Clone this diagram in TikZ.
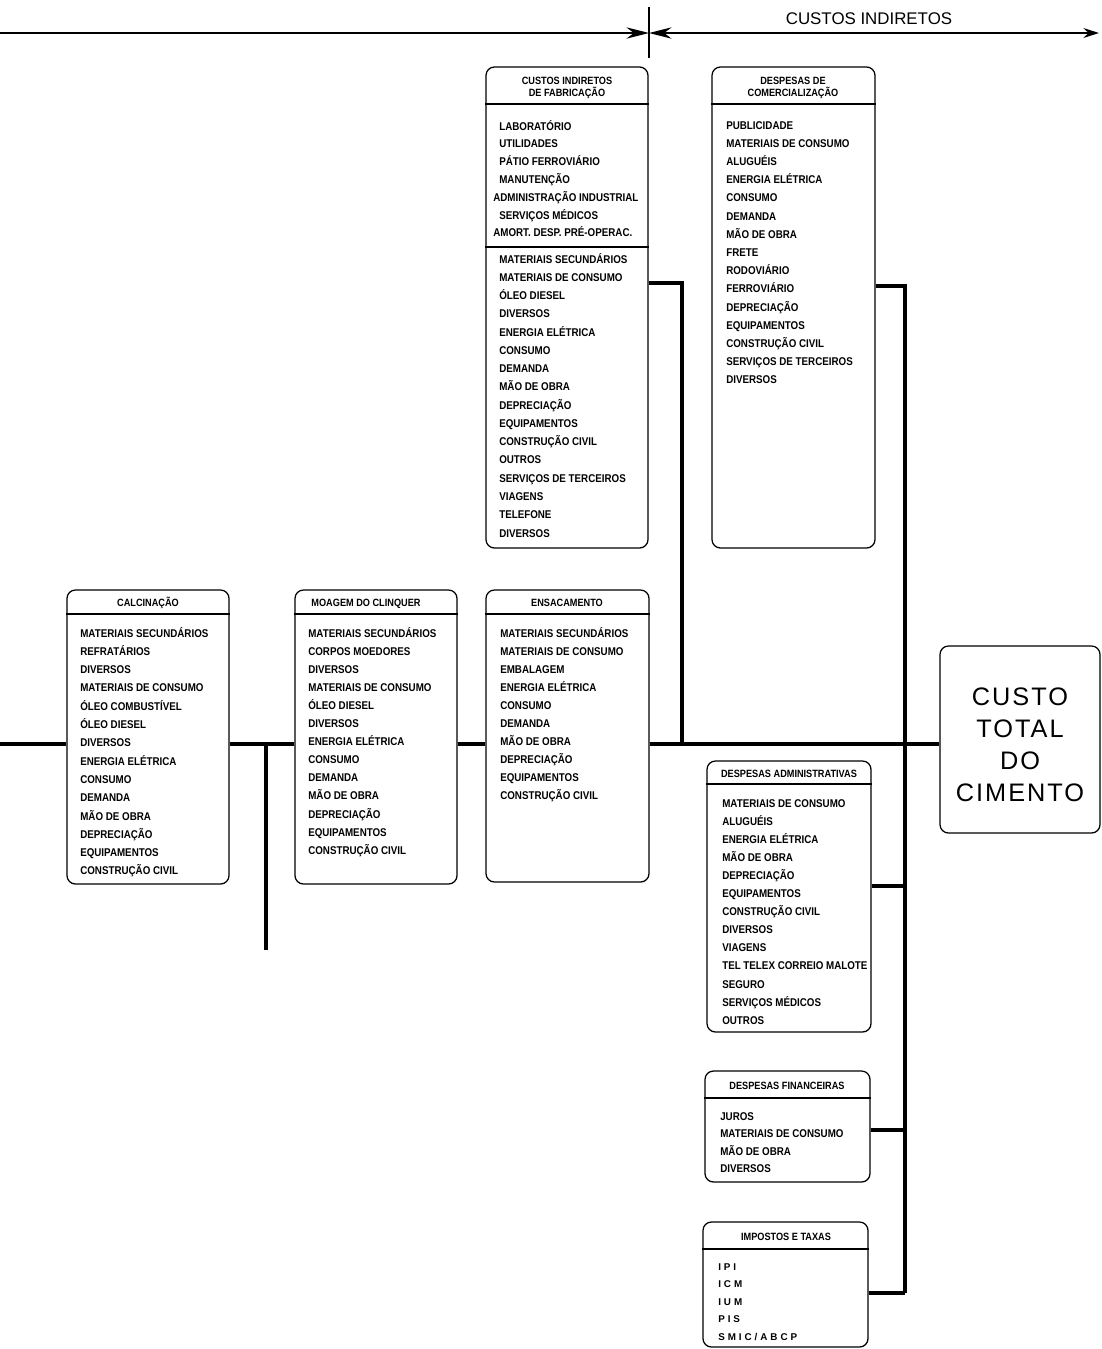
\documentclass[tikz,border=0pt]{standalone}
\usepackage{fontspec}
\setmainfont{Liberation Sans}
\newfontfamily\listfont[FakeStretch=0.87]{Liberation Sans}
\newfontfamily\widefont[LetterSpace=30]{Liberation Sans}
\newfontfamily\bigfont[LetterSpace=8]{Liberation Sans}
\usetikzlibrary{arrows.meta, fit}

\begin{document}
\begin{tikzpicture}[
    x=0.025cm, y=-0.025cm,
    panel/.style={draw, line width=0.9pt, rounded corners=6pt, inner sep=0pt},
    rule/.style={line width=0.8pt},
    head/.style={inner sep=0pt, align=center, font=\listfont\bfseries\fontsize{7.5}{9}\selectfont},
    entry/.style={anchor=base west, inner sep=0pt, font=\listfont\bfseries\fontsize{8}{9}\selectfont},
    tax/.style={entry, font=\widefont\bfseries\fontsize{7}{9}\selectfont},
    link/.style={line width=2.2pt},
    trunk/.style={line width=3pt},
    axis/.style={line width=1.4pt}
]
\useasboundingbox (0,0) rectangle (1101,1349);

% Top axis
\coordinate (axis-left) at (0,33);
\coordinate (axis-mid) at (649,33);
\coordinate (axis-right) at (1099,33);
\coordinate (tick-top) at (649,7);
\coordinate (tick-bot) at (649,58);
\draw[axis, -{Stealth[length=16pt, width=8pt]}] (axis-left) -- (axis-mid);
\draw[axis, {Stealth[length=16pt, width=8pt]}-{Stealth[length=11pt, width=7pt]}] (axis-mid) -- (axis-right);
\draw[line width=0.9pt] (tick-top) -- (tick-bot);
\node[font=\fontsize{12}{14}\selectfont] (indiretos) at (869,19) {CUSTOS INDIRETOS};

% Custos indiretos de fabricacao
\node[panel, fit={(486,67) (648,548)}] (cif) {};
\node[head] (cif-head) at (567,88) {CUSTOS INDIRETOS\\DE FABRICAÇÃO};
\draw[rule] (cif.west |- 0,104) -- (cif.east |- 0,104);
\draw[rule] (cif.west |- 0,247) -- (cif.east |- 0,247);
\foreach \dx/\txt [count=\i from 0] in {0/LABORATÓRIO, 0/UTILIDADES, 0/PÁTIO FERROVIÁRIO,
    0/MANUTENÇÃO, -6/ADMINISTRAÇÃO INDUSTRIAL, 0/SERVIÇOS MÉDICOS, -6/AMORT. DESP. PRÉ-OPERAC.}
  \node[entry] (cif-a\i) at ({499+\dx},{130+17.8*\i}) {\txt};
\foreach \txt [count=\i from 0] in {MATERIAIS SECUNDÁRIOS, MATERIAIS DE CONSUMO, ÓLEO DIESEL,
    DIVERSOS, ENERGIA ELÉTRICA, CONSUMO, DEMANDA, MÃO DE OBRA, DEPRECIAÇÃO, EQUIPAMENTOS,
    CONSTRUÇÃO CIVIL, OUTROS, SERVIÇOS DE TERCEIROS, VIAGENS, TELEFONE, DIVERSOS}
  \node[entry] (cif-b\i) at (499,{263+18.27*\i}) {\txt};

% Despesas de comercializacao
\node[panel, fit={(712,67) (875,548)}] (com) {};
\node[head] (com-head) at (793,88) {DESPESAS DE\\COMERCIALIZAÇÃO};
\draw[rule] (com.west |- 0,104) -- (com.east |- 0,104);
\foreach \txt [count=\i from 0] in {PUBLICIDADE, MATERIAIS DE CONSUMO, ALUGUÉIS, ENERGIA ELÉTRICA,
    CONSUMO, DEMANDA, MÃO DE OBRA, FRETE, RODOVIÁRIO, FERROVIÁRIO, DEPRECIAÇÃO, EQUIPAMENTOS,
    CONSTRUÇÃO CIVIL, SERVIÇOS DE TERCEIROS, DIVERSOS}
  \node[entry] (com-\i) at (726,{129+18.2*\i}) {\txt};

% Calcinacao
\node[panel, fit={(67,590) (229,884)}] (calc) {};
\node[head, anchor=base] (calc-head) at (148,606) {CALCINAÇÃO};
\draw[rule] (calc.west |- 0,614) -- (calc.east |- 0,614);
\foreach \txt [count=\i from 0] in {MATERIAIS SECUNDÁRIOS, REFRATÁRIOS, DIVERSOS, MATERIAIS DE CONSUMO,
    ÓLEO COMBUSTÍVEL, ÓLEO DIESEL, DIVERSOS, ENERGIA ELÉTRICA, CONSUMO, DEMANDA, MÃO DE OBRA,
    DEPRECIAÇÃO, EQUIPAMENTOS, CONSTRUÇÃO CIVIL}
  \node[entry] (calc-\i) at (80,{637+18.3*\i}) {\txt};

% Moagem do clinquer
\node[panel, fit={(295,590) (457,884)}] (moag) {};
\node[head, anchor=base] (moag-head) at (366,606) {MOAGEM DO CLINQUER};
\draw[rule] (moag.west |- 0,614) -- (moag.east |- 0,614);
\foreach \txt [count=\i from 0] in {MATERIAIS SECUNDÁRIOS, CORPOS MOEDORES, DIVERSOS, MATERIAIS DE CONSUMO,
    ÓLEO DIESEL, DIVERSOS, ENERGIA ELÉTRICA, CONSUMO, DEMANDA, MÃO DE OBRA, DEPRECIAÇÃO,
    EQUIPAMENTOS, CONSTRUÇÃO CIVIL}
  \node[entry] (moag-\i) at (308,{637+18.1*\i}) {\txt};

% Ensacamento
\node[panel, fit={(486,590) (649,882)}] (ens) {};
\node[head, anchor=base] (ens-head) at (567,606) {ENSACAMENTO};
\draw[rule] (ens.west |- 0,614) -- (ens.east |- 0,614);
\foreach \txt [count=\i from 0] in {MATERIAIS SECUNDÁRIOS, MATERIAIS DE CONSUMO, EMBALAGEM, ENERGIA ELÉTRICA,
    CONSUMO, DEMANDA, MÃO DE OBRA, DEPRECIAÇÃO, EQUIPAMENTOS, CONSTRUÇÃO CIVIL}
  \node[entry] (ens-\i) at (500,{637+18.1*\i}) {\txt};

% Custo total
\node[panel, fit={(940,646) (1100,833)}] (total) {};
\node[align=center, inner sep=0pt, font=\bigfont\fontsize{18}{22.7}\selectfont] (total-text) at (1020,745) {CUSTO\\TOTAL\\DO\\CIMENTO};

% Despesas administrativas
\node[panel, fit={(707,761) (871,1032)}] (adm) {};
\node[head, anchor=base] (adm-head) at (789,777) {DESPESAS ADMINISTRATIVAS};
\draw[rule] (adm.west |- 0,784) -- (adm.east |- 0,784);
\foreach \txt [count=\i from 0] in {MATERIAIS DE CONSUMO, ALUGUÉIS, ENERGIA ELÉTRICA, MÃO DE OBRA,
    DEPRECIAÇÃO, EQUIPAMENTOS, CONSTRUÇÃO CIVIL, DIVERSOS, VIAGENS, TEL TELEX CORREIO MALOTE,
    SEGURO, SERVIÇOS MÉDICOS, OUTROS}
  \node[entry] (adm-\i) at (722,{807+18.1*\i}) {\txt};

% Despesas financeiras
\node[panel, fit={(705,1071) (870,1182)}] (fin) {};
\node[head, anchor=base] (fin-head) at (787,1089) {DESPESAS FINANCEIRAS};
\draw[rule] (fin.west |- 0,1098) -- (fin.east |- 0,1098);
\foreach \txt [count=\i from 0] in {JUROS, MATERIAIS DE CONSUMO, MÃO DE OBRA, DIVERSOS}
  \node[entry] (fin-\i) at (720,{1120+17.5*\i}) {\txt};

% Impostos e taxas
\node[panel, fit={(703,1222) (868,1347)}] (imp) {};
\node[head, anchor=base] (imp-head) at (786,1240) {IMPOSTOS E TAXAS};
\draw[rule] (imp.west |- 0,1249) -- (imp.east |- 0,1249);
\foreach \txt [count=\i from 0] in {IPI, ICM, IUM, PIS, SMIC/ABCP}
  \node[tax] (imp-\i) at (718,{1270+17.5*\i}) {\txt};

% Connectors
\coordinate (origin) at (0,744);
\coordinate (drop) at (266,950);
\coordinate (cif-join) at (682,744);
\coordinate (bus) at (905,1293);
\draw[trunk] (origin) -- (calc.west |- origin);
\draw[link] (calc.east |- origin) -- (moag.west |- origin);
\draw[link] (drop |- origin) -- (drop);
\draw[link] (moag.east |- origin) -- (ens.west |- origin);
\draw[link] (ens.east |- origin) -- (total.west |- origin);
\draw[link] (cif.east |- 0,283) -| (cif-join);
\draw[link] (com.east |- 0,286) -| (bus);
\draw[link] (adm.east |- 0,886) -- (bus |- 0,886);
\draw[link] (fin.east |- 0,1130) -- (bus |- 0,1130);
\draw[link] (imp.east |- bus) -- (bus);

\end{tikzpicture}
\end{document}
